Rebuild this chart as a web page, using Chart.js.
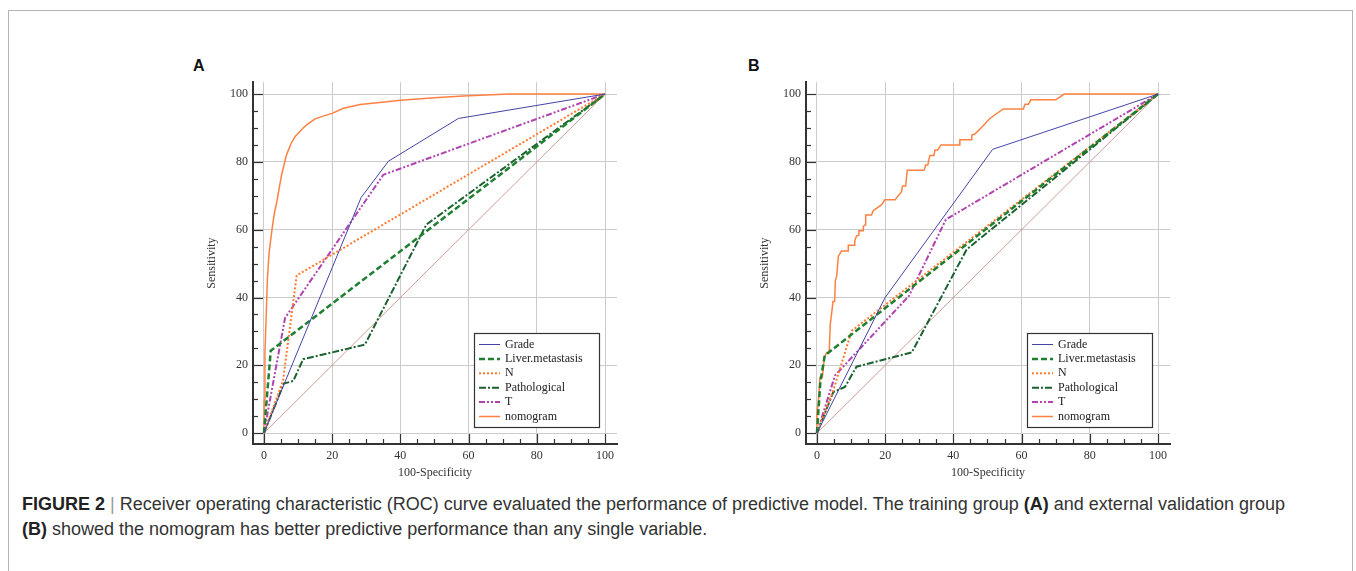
<!DOCTYPE html>
<html>
  <head>
    <title>ROC curves</title>
    <script src="https://cdn.jsdelivr.net/npm/chart.js@4/dist/chart.umd.min.js"></script>
    <style>
      body { margin: 0; background: #fff; overflow: hidden; width: 1356px; height: 571px; }
      .frame { position: absolute; left: 8px; top: 10px; width: 1343px; height: 600px; border: 1px solid #b4b4b4; }
      .panel { position: absolute; font: bold 16px "Liberation Sans", Arial, sans-serif; line-height: 16px; color: #111; }
      canvas { position: absolute; }
      .caption { position: absolute; left: 22px; top: 492px; font: 18px "Liberation Sans", Arial, sans-serif; line-height: 25px; color: #333; white-space: nowrap; }
      .caption b { color: #222; }
      .caption .bar { color: #999; }
    </style>
  </head>
  <body>
    <div class="frame"></div>
    <div class="panel" style="left:193px; top:58px;">A</div>
    <div class="panel" style="left:748px; top:58px;">B</div>
    <canvas id="rocA" width="435" height="420" style="left:195px; top:70px;"></canvas>
    <canvas id="rocB" width="435" height="420" style="left:748px; top:70px;"></canvas>
    <div class="caption">
      <b>FIGURE 2</b> <span class="bar">|</span> Receiver operating characteristic (ROC) curve evaluated the performance of predictive model. The training group <b>(A)</b> and external validation group<br>
      <b>(B)</b> showed the nomogram has better predictive performance than any single variable.
    </div>

    <script>
      // axis ticks
      const tickValues = [0, 20, 40, 60, 80, 100];
      const minorStep = 5;

      // series names, same order in both panels
      const seriesNames = ['Grade', 'Liver.metastasis', 'N', 'Pathological', 'T', 'nomogram'];

      // reference diagonal
      const diagonal = [[0, 0], [100, 100]];

      // panel A - training group  [100-specificity, sensitivity]
      const gradeA = [[0, 0], [28.5, 69.5], [36.5, 80.2], [57, 92.8], [100, 100]];
      const liverA = [[0, 0], [2, 24.3], [100, 100]];
      const nA = [[0, 0], [5.6, 15.5], [9.6, 46.5], [100, 100]];
      const pathA = [[0, 0], [5.8, 14.6], [8.6, 15.4], [11.5, 21.8], [29.6, 26.1], [47.6, 61.5], [100, 100]];
      const tA = [[0, 0], [6.2, 34], [35, 76.2], [100, 100]];
      const nomoA = [[0, 0], [0.1, 10], [0.3, 24], [0.6, 32.5], [1, 45], [1.5, 53], [2.3, 59.5], [3, 64.5],
        [3.7, 67.8], [4.7, 73.5], [5.2, 76.2], [6.6, 82], [8, 85.5], [9.1, 87.4], [11.5, 90], [13, 91.3],
        [15, 92.7], [17.4, 93.5], [20, 94.3], [23.3, 95.8], [28.2, 96.9], [36, 97.7], [40, 98.2],
        [50, 98.9], [58.4, 99.4], [72, 100], [100, 100]];

      // panel B - external validation group
      const gradeB = [[0, 0], [20, 40], [51.5, 83.7], [100, 100]];
      const liverB = [[0, 0], [1, 15], [2.3, 22.9], [100, 100]];
      const nB = [[0, 0], [4.8, 12.6], [10.2, 30.2], [100, 100]];
      const pathB = [[0, 0], [4.8, 12.1], [8.2, 13.6], [11.6, 19.6], [27.8, 23.8], [43.9, 54.2], [100, 100]];
      const tB = [[0, 0], [5.3, 17], [27, 40.5], [37.8, 63], [100, 100]];
      const nomoB = [[0, 0], [0, 6], [0.4, 9], [0.9, 16.5], [1.6, 16.5], [2.2, 22.4], [2.9, 23.8], [3.6, 23.8],
        [3.9, 32], [4.4, 36], [4.7, 38.8], [5.2, 38.8], [5.4, 45], [5.8, 46.3], [6.3, 52.2], [7.2, 53.7],
        [9.2, 53.7], [9.2, 55.4], [11.1, 55.4], [11.1, 56.8], [11.6, 58.1], [12.3, 58.4], [12.3, 59.7],
        [13.6, 59.7], [13.6, 61], [14.3, 61.5], [14.3, 64.3], [16, 64.3], [16.5, 65.6], [19, 67.4],
        [19.9, 68.8], [22.9, 68.8], [24.8, 71.2], [25.1, 72.9], [26, 72.9], [26.5, 77.5], [31.4, 77.5],
        [31.9, 79.1], [32.5, 79.1], [33.1, 81.9], [34.3, 81.9], [34.6, 83.5], [35.4, 83.5], [36.4, 85],
        [41.9, 85], [41.9, 86.5], [45.2, 86.5], [45.4, 87.9], [46.3, 88.2], [48.8, 90.7], [50.7, 92.8],
        [54.6, 95.6], [60.5, 95.6], [61, 97], [62, 97], [62.7, 98.3], [70, 98.3], [72.5, 100], [100, 100]];

      // line looks, one per series
      const styles = [
        { color: '#4343a6', width: 1, dash: [] },
        { color: '#1f7f31', width: 2.5, dash: [6, 3] },
        { color: '#ff7a2e', width: 2, dash: [2, 2] },
        { color: '#1c6230', width: 2, dash: [7, 2, 2, 2] },
        { color: '#b043b0', width: 2, dash: [6, 2, 2, 2, 2, 2] },
        { color: '#ff8142', width: 1.5, dash: [] }
      ];

      const serif = { family: '"Liberation Serif", "Times New Roman", serif', size: 12 };
      const pts = arr => arr.map(p => ({ x: p[0], y: p[1] }));

      // tick marks that point into the plot, like the original
      const innerTicks = {
        id: 'innerTicks',
        afterDraw(chart) {
          const { ctx, chartArea: a, scales: { x, y } } = chart;
          ctx.save();
          ctx.strokeStyle = '#333';
          ctx.lineWidth = 1.2;
          for (let v = tickValues[0]; v <= tickValues[tickValues.length - 1]; v += minorStep) {
            const len = tickValues.includes(v) ? 10 : 5;
            const px = Math.round(x.getPixelForValue(v)) + 0.5;
            const py = Math.round(y.getPixelForValue(v)) + 0.5;
            ctx.beginPath(); ctx.moveTo(px, a.bottom); ctx.lineTo(px, a.bottom - len); ctx.stroke();
            ctx.beginPath(); ctx.moveTo(a.left, py); ctx.lineTo(a.left + len, py); ctx.stroke();
          }
          ctx.restore();
        }
      };

      // boxed legend in the lower right corner of the plot
      const boxLegend = {
        id: 'boxLegend',
        afterDraw(chart) {
          const { ctx, chartArea: a } = chart;
          const w = 125, h = 94;
          const left = a.right - 18 - w, top = a.bottom - 17 - h;
          ctx.save();
          ctx.fillStyle = '#fff';
          ctx.fillRect(left, top, w, h);
          ctx.strokeStyle = '#333';
          ctx.lineWidth = 1.2;
          ctx.strokeRect(left + 0.5, top + 0.5, w, h);
          ctx.font = '12px ' + serif.family;
          ctx.textBaseline = 'middle';
          chart.data.datasets.filter(d => d.label).forEach((d, i) => {
            const yy = top + 11.5 + i * 14.4;
            ctx.strokeStyle = d.borderColor;
            ctx.lineWidth = d.borderWidth;
            ctx.setLineDash(d.borderDash);
            ctx.beginPath(); ctx.moveTo(left + 5, yy); ctx.lineTo(left + 26, yy); ctx.stroke();
            ctx.setLineDash([]);
            ctx.fillStyle = '#222';
            ctx.fillText(d.label, left + 31, yy);
          });
          ctx.restore();
        }
      };

      function makeRoc(id, series) {
        const datasets = series.map((s, i) => ({
          label: seriesNames[i],
          data: pts(s),
          borderColor: styles[i].color,
          borderWidth: styles[i].width,
          borderDash: styles[i].dash,
          showLine: true,
          fill: false
        }));
        datasets.push({
          label: '',
          data: pts(diagonal),
          borderColor: '#c48478',
          borderWidth: 0.8,
          showLine: true,
          fill: false
        });

        const axis = (titleText, fit) => ({
          type: 'linear',
          min: -3.2,
          max: 103.5,
          afterBuildTicks: s => { s.ticks = tickValues.map(v => ({ value: v })); },
          afterFit: fit,
          grid: { color: '#cbcbcb', lineWidth: 1, drawTicks: false },
          border: { color: '#333', width: 2 },
          ticks: { font: serif, color: '#333', padding: 5, maxRotation: 0, autoSkip: false },
          title: { display: true, text: titleText, font: serif, color: '#333', padding: { top: 4, bottom: 10 } }
        });

        return new Chart(document.getElementById(id), {
          type: 'scatter',
          data: { datasets: datasets },
          options: {
            responsive: false,
            animation: false,
            layout: { padding: { left: 6, top: 11, right: 13, bottom: 0 } },
            elements: { point: { radius: 0 }, line: { tension: 0 } },
            plugins: { legend: { display: false }, tooltip: { enabled: false } },
            scales: {
              x: axis('100-Specificity', s => { s.height = 46; }),
              y: axis('Sensitivity', s => { s.width = 52; })
            }
          },
          plugins: [innerTicks, boxLegend]
        });
      }

      makeRoc('rocA', [gradeA, liverA, nA, pathA, tA, nomoA]);
      makeRoc('rocB', [gradeB, liverB, nB, pathB, tB, nomoB]);
    </script>
  </body>
</html>
